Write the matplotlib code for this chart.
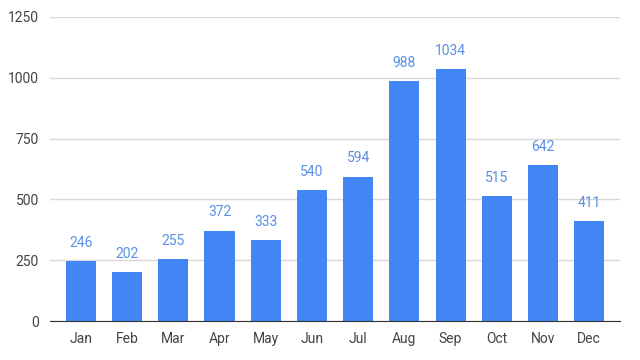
import matplotlib
matplotlib.use("Agg")
import matplotlib.pyplot as plt

months = ["Jan", "Feb", "Mar", "Apr", "May", "Jun", "Jul", "Aug", "Sep", "Oct", "Nov", "Dec"]
values = [246, 202, 255, 372, 333, 540, 594, 988, 1034, 515, 642, 411]
yticks = [0, 250, 500, 750, 1000, 1250]

plt.rcParams['font.family'] = ['Roboto', 'DejaVu Sans']
fig = plt.figure(figsize=(6.4, 3.6), dpi=100)
ax = fig.add_axes([0.078, 0.108, 0.891, 0.845])

x = list(range(len(months)))
ax.bar(x, values, width=0.65, color="#4285F4", zorder=3)
for xi, v in zip(x, values):
    ax.annotate(str(v), (xi, v), xytext=(0, 8), textcoords="offset points",
                ha="center", va="bottom", color="#5a8fe6", fontsize=10)

ax.set_xlim(-0.67, len(months) - 1 + 0.67)
ax.set_ylim(0, 1250)
ax.set_yticks(yticks)
ax.set_xticks(x)
ax.set_xticklabels(months)
ax.grid(axis="y", color="#d9d9d9", linewidth=1, zorder=0)
for s in ["top", "right", "left"]:
    ax.spines[s].set_visible(False)
ax.spines["bottom"].set_color("#333333")
ax.spines["bottom"].set_zorder(4)
ax.tick_params(axis="both", length=0, colors="#444444", labelsize=10)
ax.tick_params(axis="x", pad=8)
ax.tick_params(axis="y", pad=8)

fig.savefig("out.png", dpi=100)
